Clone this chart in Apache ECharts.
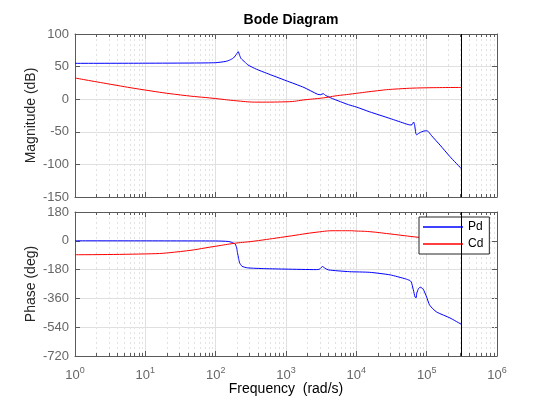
<!DOCTYPE html>
<html lang="en">
<head>
<meta charset="UTF-8">
<title>Bode Diagram</title>
<script src="https://cdn.jsdelivr.net/npm/echarts@6/dist/echarts.min.js"></script>
<style>
    html, body { margin: 0; background: #fff; }
    #container { width: 535px; height: 402px; }
</style>
</head>
<body>
<div id="container"></div>
<script>
    // frequencies in rad/s, magnitude in dB, phase in deg
    var pdMagFreq = [1, 10, 50, 100, 140, 158, 178, 190, 200, 209, 218, 229, 260, 288, 380, 525, 1000, 1800, 2820, 3100,
        3390, 3630, 4570, 7760, 10000, 15500, 30200, 51300, 58000, 62000, 65300, 67500, 70000, 72000, 78000, 85000, 95000,
        102000, 110000, 117500, 155000, 214000, 314159];
    var pdMag = [55, 55.2, 55.5, 56, 58, 60, 63, 66.5, 70, 73, 68, 62.5, 57, 52.5, 46, 40, 28.5, 18, 7.5, 7,
        8.5, 6, 1, -8.5, -12, -19.4, -29.6, -38, -39.5, -39, -35, -40, -52, -54.5, -52, -50, -48.5,
        -48.5, -52, -56, -70.4, -88, -107];

    var pdPhaseFreq = [1, 100, 150, 170, 190, 200, 204, 212, 219, 237, 282, 500, 1000, 2700, 3000, 3300, 3600, 4000, 8000,
        15500, 30200, 50000, 57500, 60300, 64600, 68400, 70800, 72400, 76700, 81300, 89100, 100000, 109600, 123000, 141000,
        214000, 314159];
    var pdPhase = [0, -1, -4, -10, -21, -50, -74, -110, -138, -159, -169, -174, -177, -180, -177, -161, -172, -182, -193,
        -197, -213, -238, -248, -256, -306, -352, -356, -327, -298, -290, -302, -352, -400, -426, -447,
        -482, -523];

    var cdMagFreq = [1, 3.16, 10, 31.6, 100, 200, 400, 1000, 2000, 2800, 3700, 5000, 7800, 10000, 20000, 33000, 100000, 314159];
    var cdMag = [32.5, 23, 14, 6.5, 1, -2.5, -4.5, -4, -0.5, 1, 2.6, 5, 7.5, 9, 13, 15.3, 17.5, 18];

    var cdPhaseFreq = [1, 10, 31.6, 100, 190, 340, 1000, 3000, 5100, 8000, 10000, 15500, 30000, 80000, 150000, 314159];
    var cdPhase = [-87, -82, -67, -34, -15, -3, 26, 56, 63, 63, 61, 57, 43, 21, 11, 5];

    var nyquistFreq = 314159;
    var decades = [1, 10, 100, 1000, 10000, 100000];
    var minorSteps = [2, 3, 4, 5, 6, 7, 8, 9];

    function pairs(xs, ys) {
        var out = [];
        for (var i = 0; i < xs.length; i++) out.push([xs[i], ys[i]]);
        return out;
    }

    var minorData = [];
    decades.forEach(function (d) {
        minorSteps.forEach(function (m) { minorData.push([m * d, 0]); });
    });

    var frame = '#5a5a5a';
    var gridColor = '#e0e0e0';
    var font = 'Liberation Sans, Arial, sans-serif';

    function renderMinor(params, api) {
        var cs = params.coordSys;
        var x = Math.round(api.coord([api.value(0), api.value(1)])[0]) + 0.5;
        var top = cs.y, bot = cs.y + cs.height;
        return {
            type: 'group',
            children: [
                {type: 'line', shape: {x1: x, y1: top, x2: x, y2: bot},
                    style: {stroke: '#e2e2e2', lineWidth: 1, lineDash: [2, 3]}},
                {type: 'line', shape: {x1: x, y1: top, x2: x, y2: top + 3},
                    style: {stroke: frame, lineWidth: 1}},
                {type: 'line', shape: {x1: x, y1: bot, x2: x, y2: bot - 3},
                    style: {stroke: frame, lineWidth: 1}}
            ]
        };
    }

    function xAxisFor(gi, pos, labels) {
        return {
            type: 'log', logBase: 10, min: 1, max: 1e6, splitNumber: 6,
            gridIndex: gi, position: pos,
            axisLine: {show: true, onZero: false, lineStyle: {color: frame}},
            axisTick: {show: true, inside: true, length: 5, lineStyle: {color: frame}},
            splitLine: {show: pos === 'bottom', lineStyle: {color: gridColor}},
            axisLabel: {
                show: labels, color: '#666', fontFamily: font, margin: 10,
                formatter: function (v) {
                    return '{b|10}{e|' + Math.round(Math.log10(v)) + '}';
                },
                rich: {
                    b: {fontSize: 13, color: '#666', fontFamily: font},
                    e: {fontSize: 9, color: '#666', fontFamily: font, padding: [0, 0, 9, 0]}
                }
            }
        };
    }

    function yAxisFor(gi, pos, min, max, step, name) {
        var left = pos === 'left';
        return {
            type: 'value', gridIndex: gi, position: pos, min: min, max: max, interval: step,
            name: left ? name : '', nameLocation: 'middle', nameGap: 37, nameRotate: 90,
            nameMoveOverlap: false,
            nameTextStyle: {fontSize: 14, color: '#262626', fontFamily: font},
            axisLine: {show: true, onZero: false, lineStyle: {color: frame}},
            axisTick: {show: true, inside: true, length: 5, lineStyle: {color: frame}},
            splitLine: {show: left, lineStyle: {color: gridColor}},
            axisLabel: {show: left, color: '#666', fontSize: 13, fontFamily: font, margin: 6}
        };
    }

    var nyquistLine = {
        silent: true, symbol: 'none', animation: false,
        label: {show: false},
        lineStyle: {color: '#000', type: 'solid', width: 1},
        emphasis: {disabled: true},
        data: [{xAxis: nyquistFreq}]
    };

    var dom = document.getElementById('container');
    var myChart = echarts.init(dom);

    var xPhase = xAxisFor(1, 'bottom', true);
    xPhase.name = 'Frequency  (rad/s)';
    xPhase.nameLocation = 'middle';
    xPhase.nameGap = 26;
    xPhase.nameMoveOverlap = false;
    xPhase.nameTextStyle = {fontSize: 14, color: '#000', fontFamily: font};

    function curve(name, xi, color, data, smooth, mark) {
        var s = {
            type: 'line', name: name, xAxisIndex: xi, yAxisIndex: xi, z: 3, symbol: 'none',
            smooth: smooth,
            lineStyle: {color: color, width: 1}, itemStyle: {color: color},
            data: data
        };
        if (mark) s.markLine = nyquistLine;
        return s;
    }

    var option = {
        animation: false,
        backgroundColor: '#fff',
        title: {
            text: 'Bode Diagram', left: 286, top: 8, textAlign: 'center',
            textStyle: {fontSize: 14, fontWeight: 'bold', color: '#000', fontFamily: font}
        },
        legend: {
            data: ['Pd', 'Cd'], orient: 'vertical', left: 419, top: 217, icon: 'rect',
            backgroundColor: '#fff', borderColor: '#262626', borderWidth: 1, borderRadius: 0,
            padding: [3, 6, 3, 4], itemWidth: 40, itemHeight: 1.5, itemGap: 3,
            textStyle: {fontSize: 12, color: '#000', fontFamily: font, lineHeight: 14}
        },
        grid: [
            {left: 75, right: 38, top: 34, height: 163},
            {left: 75, right: 38, top: 212, height: 144}
        ],
        xAxis: [
            xAxisFor(0, 'bottom', false),
            xPhase,
            xAxisFor(0, 'top', false),
            xAxisFor(1, 'top', false)
        ],
        yAxis: [
            yAxisFor(0, 'left', -150, 100, 50, 'Magnitude (dB)'),
            yAxisFor(1, 'left', -720, 180, 180, 'Phase (deg)'),
            yAxisFor(0, 'right', -150, 100, 50, ''),
            yAxisFor(1, 'right', -720, 180, 180, '')
        ],
        series: [
            {type: 'custom', name: 'minor0', xAxisIndex: 0, yAxisIndex: 0, z: 1, silent: true,
                renderItem: renderMinor, data: minorData},
            {type: 'custom', name: 'minor1', xAxisIndex: 1, yAxisIndex: 1, z: 1, silent: true,
                renderItem: renderMinor, data: minorData},
            curve('Pd', 0, '#0000ff', pairs(pdMagFreq, pdMag), 0.2, true),
            curve('Cd', 0, '#ff0000', pairs(cdMagFreq, cdMag), 0.5, false),
            curve('Pd', 1, '#0000ff', pairs(pdPhaseFreq, pdPhase), 0.2, true),
            curve('Cd', 1, '#ff0000', pairs(cdPhaseFreq, cdPhase), 0.5, false)
        ]
    };

    myChart.setOption(option, true);
</script>
</body>
</html>
